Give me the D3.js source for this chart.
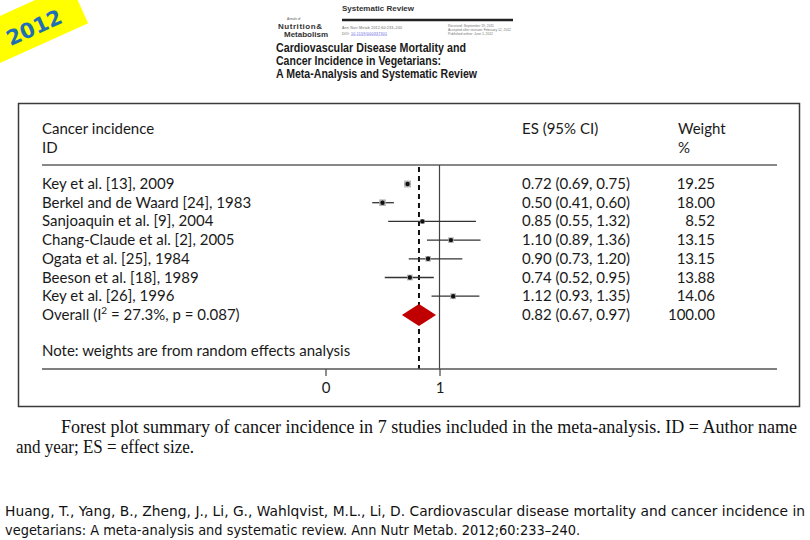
<!DOCTYPE html>
<html><head><meta charset="utf-8">
<script src="https://cdn.jsdelivr.net/npm/d3@7"></script>
<style>
html,body{margin:0;padding:0;background:#fff;}
svg{display:block;}
</style></head>
<body>
<svg id="c" width="810" height="540"></svg>
<script>
// ---------- data ----------
const studies = ["Key et al. [13], 2009","Berkel and de Waard [24], 1983","Sanjoaquin et al. [9], 2004","Chang-Claude et al. [2], 2005","Ogata et al. [25], 1984","Beeson et al. [18], 1989","Key et al. [26], 1996"];
const es      = [0.72, 0.50, 0.85, 1.10, 0.90, 0.74, 1.12];
const ciLow   = [0.69, 0.41, 0.55, 0.89, 0.73, 0.52, 0.93];
const ciHigh  = [0.75, 0.60, 1.32, 1.36, 1.20, 0.95, 1.35];
const weights = [19.25, 18.00, 8.52, 13.15, 13.15, 13.88, 14.06];
const overall = {label: "Overall", i2: "27.3%", p: "0.087", es: 0.82, lo: 0.67, hi: 0.97, w: 100.00};
const xTicks  = [0, 1];

const svg = d3.select("#c");
const sans = "Lato, 'Noto Sans', sans-serif";

// ---------- 2012 badge ----------
const badge = svg.append("g").attr("transform","translate(38,36) rotate(-24.4)");
badge.append("rect").attr("x",-120).attr("y",-34).attr("width",171).attr("height",43).attr("fill","#ffff00");
badge.append("text").attr("x",0).attr("y",-2).attr("text-anchor","middle")
  .attr("font-family","'DejaVu Sans', sans-serif").attr("font-weight","bold").attr("font-size",21)
  .attr("fill","#1f6fb5").text("2012");

// ---------- journal header ----------
const hd = svg.append("g").attr("font-family","'Liberation Sans', Arial, sans-serif");
hd.append("text").attr("x",342).attr("y",11).attr("font-size",8).attr("font-weight","bold").attr("fill","#333").text("Systematic Review");
hd.append("line").attr("x1",342).attr("x2",513).attr("y1",20).attr("y2",20).attr("stroke","#222").attr("stroke-width",2.4);
hd.append("text").attr("x",287).attr("y",19.5).attr("font-size",3.2).attr("fill","#555").text("Annals of");
hd.append("text").attr("x",278).attr("y",28.5).attr("font-size",8).attr("font-weight","bold").attr("fill","#333").attr("textLength",44).text("Nutrition&");
hd.append("text").attr("x",284).attr("y",36.5).attr("font-size",8).attr("font-weight","bold").attr("fill","#333").attr("textLength",44).text("Metabolism");
hd.append("text").attr("x",342).attr("y",29).attr("font-size",3.6).attr("fill","#666").attr("textLength",60).text("Ann Nutr Metab 2012;60:233–240");
hd.append("text").attr("x",342).attr("y",34.5).attr("font-size",3.6).attr("fill","#666").text("DOI: ");
hd.append("text").attr("x",351).attr("y",34.5).attr("font-size",3.6).attr("fill","#5a5adc").attr("text-decoration","underline").attr("textLength",36).text("10.1159/000337301");
hd.append("text").attr("x",448).attr("y",27).attr("font-size",3.4).attr("fill","#777").attr("textLength",46).text("Received: September 19, 2011");
hd.append("text").attr("x",448).attr("y",31).attr("font-size",3.4).attr("fill","#777").attr("textLength",63).text("Accepted after revision: February 12, 2012");
hd.append("text").attr("x",448).attr("y",35).attr("font-size",3.4).attr("fill","#777").attr("textLength",45).text("Published online: June 1, 2012");
const tl = ["Cardiovascular Disease Mortality and","Cancer Incidence in Vegetarians:","A Meta-Analysis and Systematic Review"];
const tlW = [190, 165, 201];
tl.forEach((t,i)=>{
  hd.append("text").attr("x",276).attr("y",51.5+i*13).attr("font-size",12.5).attr("font-weight","bold")
    .attr("fill","#1a1a1a").attr("textLength",tlW[i]).attr("lengthAdjust","spacingAndGlyphs").text(t);
});

// ---------- frame ----------
svg.append("rect").attr("x",18.5).attr("y",103.5).attr("width",781).attr("height",303)
  .attr("fill","none").attr("stroke","#3a3a3a").attr("stroke-width",1.5);

// ---------- forest plot ----------
const x = d3.scaleLinear().domain([0,1]).range([325.5,439.5]);
const rowY = d3.scaleLinear().domain([0,1]).range([184,202.7]);
const yTop = 165, yAxis = 369;
const g = svg.append("g").attr("font-family",sans).attr("fill","#1a1a1a");

// header texts
g.append("text").attr("x",42).attr("y",134).attr("font-size",15).text("Cancer incidence");
g.append("text").attr("x",42).attr("y",153).attr("font-size",15).text("ID");
g.append("text").attr("x",522).attr("y",134).attr("font-size",15).text("ES (95% CI)");
g.append("text").attr("x",678).attr("y",134).attr("font-size",15).text("Weight");
g.append("text").attr("x",678).attr("y",153).attr("font-size",15).text("%");
svg.append("line").attr("x1",42).attr("x2",777).attr("y1",yTop).attr("y2",yTop).attr("stroke","#888").attr("stroke-width",2);

// reference lines
svg.append("line").attr("x1",x(1)).attr("x2",x(1)).attr("y1",yTop).attr("y2",yAxis).attr("stroke","#444").attr("stroke-width",1.2);
svg.append("line").attr("x1",x(overall.es)).attr("x2",x(overall.es)).attr("y1",yTop+2).attr("y2",yAxis)
  .attr("stroke","#111").attr("stroke-width",2).attr("stroke-dasharray","5,4");

// study rows
const data = studies.map((s,i)=>({s, es:es[i], lo:ciLow[i], hi:ciHigh[i], w:weights[i], i}));
const fmt = d3.format(".2f");
const rows = svg.append("g").selectAll("g").data(data).join("g");
rows.append("line").attr("x1",d=>x(d.lo)).attr("x2",d=>x(d.hi)).attr("y1",d=>rowY(d.i)).attr("y2",d=>rowY(d.i))
  .attr("stroke","#333").attr("stroke-width",1.3);
rows.append("rect").attr("x",d=>x(d.es)-(3+d.w*0.2)/2).attr("y",d=>rowY(d.i)-(3+d.w*0.2)/2)
  .attr("width",d=>3+d.w*0.2).attr("height",d=>3+d.w*0.2).attr("fill","#b4b4b4");
rows.append("circle").attr("cx",d=>x(d.es)).attr("cy",d=>rowY(d.i)).attr("r",2.2).attr("fill","#111");
rows.append("text").attr("x",42).attr("y",d=>rowY(d.i)+5).attr("font-family",sans).attr("font-size",15).attr("fill","#1a1a1a").text(d=>d.s);
rows.append("text").attr("x",522).attr("y",d=>rowY(d.i)+5).attr("font-family",sans).attr("font-size",15).attr("fill","#1a1a1a")
  .text(d=>`${fmt(d.es)} (${fmt(d.lo)}, ${fmt(d.hi)})`);
rows.append("text").attr("x",715).attr("y",d=>rowY(d.i)+5).attr("text-anchor","end").attr("font-family",sans).attr("font-size",15).attr("fill","#1a1a1a")
  .text(d=>fmt(d.w));

// overall row
const oy = rowY(7);
svg.append("path").attr("d",`M${x(overall.lo)},${oy} L${x(overall.es)},${oy-11} L${x(overall.hi)},${oy} L${x(overall.es)},${oy+11} Z`).attr("fill","#c00000");
const ot = g.append("text").attr("x",42).attr("y",oy+5).attr("font-size",15);
ot.append("tspan").text("Overall (I");
ot.append("tspan").attr("font-size",10).attr("dy",-6).text("2");
ot.append("tspan").attr("dy",6).text(` = ${overall.i2}, p = ${overall.p})`);
g.append("text").attr("x",522).attr("y",oy+5).attr("font-size",15).text(`${fmt(overall.es)} (${fmt(overall.lo)}, ${fmt(overall.hi)})`);
g.append("text").attr("x",715).attr("y",oy+5).attr("text-anchor","end").attr("font-size",15).text(fmt(overall.w));

// note
g.append("text").attr("x",42).attr("y",356).attr("font-size",15).text("Note: weights are from random effects analysis");

// axis
svg.append("line").attr("x1",42).attr("x2",777).attr("y1",yAxis).attr("y2",yAxis).attr("stroke","#555").attr("stroke-width",1.3);
const ax = svg.append("g").attr("transform",`translate(0,${yAxis})`)
  .call(d3.axisBottom(x).tickValues(xTicks).tickFormat(d3.format("d")).tickSize(7).tickPadding(6));
ax.select(".domain").remove();
ax.selectAll(".tick line").attr("stroke","#444").attr("stroke-width",1.2);
ax.selectAll(".tick text").attr("font-family",sans).attr("font-size",15).attr("fill","#1a1a1a");

// ---------- caption ----------
const serif = "'Liberation Serif', 'DejaVu Serif', serif";
svg.append("text").attr("x",61).attr("y",433).attr("font-family",serif).attr("font-size",18).attr("fill","#111")
  .attr("textLength",736).attr("lengthAdjust","spacingAndGlyphs")
  .text("Forest plot summary of cancer incidence in 7 studies included in the meta-analysis. ID = Author name");
svg.append("text").attr("x",16).attr("y",453).attr("font-family",serif).attr("font-size",18).attr("fill","#111")
  .attr("textLength",178).attr("lengthAdjust","spacingAndGlyphs")
  .text("and year; ES = effect size.");

// ---------- citation ----------
const cite = "'DejaVu Sans Condensed', 'DejaVu Sans', sans-serif";
svg.append("text").attr("x",5).attr("y",516).attr("font-family",cite).attr("font-size",13.5).attr("fill","#111")
  .attr("textLength",800).attr("lengthAdjust","spacingAndGlyphs")
  .text("Huang, T., Yang, B., Zheng, J., Li, G., Wahlqvist, M.L., Li, D. Cardiovascular disease mortality and cancer incidence in");
svg.append("text").attr("x",5).attr("y",535).attr("font-family",cite).attr("font-size",13.5).attr("fill","#111")
  .attr("textLength",575).attr("lengthAdjust","spacingAndGlyphs")
  .text("vegetarians: A meta-analysis and systematic review. Ann Nutr Metab. 2012;60:233–240.");
</script>
</body></html>
